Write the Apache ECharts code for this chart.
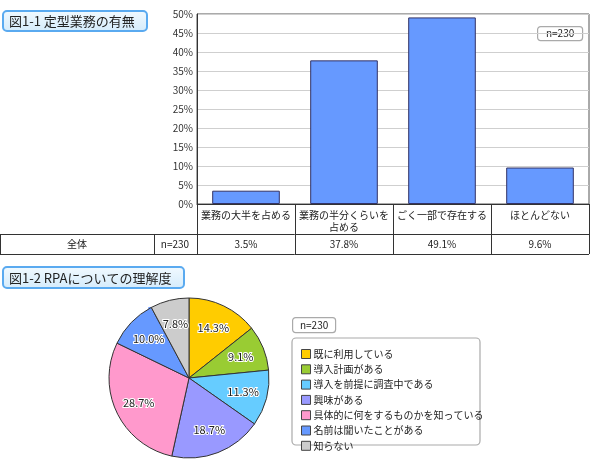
<!DOCTYPE html>
<html>
<head>
<meta charset="utf-8">
<script src="https://cdn.jsdelivr.net/npm/echarts@6/dist/echarts.min.js"></script>
<style>html,body{margin:0;padding:0;background:#fff}#c{width:590px;height:471px}</style>
</head>
<body>
<div id="c"></div>
<script>
// ---- data ----
var barCategories = ['業務の大半を占める', '業務の半分くらいを\n占める', 'ごく一部で存在する', 'ほとんどない'];
var barValues = [3.5, 37.8, 49.1, 9.6];
var yTicks = [0, 5, 10, 15, 20, 25, 30, 35, 40, 45, 50];
var pieCategories = ['既に利用している', '導入計画がある', '導入を前提に調査中である', '興味がある', '具体的に何をするものかを知っている', '名前は聞いたことがある', '知らない'];
var pieValues = [14.3, 9.1, 11.3, 18.7, 28.7, 10.0, 7.8];
var pieColors = ['#FFCC00', '#99CC33', '#66CCFF', '#9999FF', '#FF99CC', '#6699FF', '#CCCCCC'];
var sampleLabel = 'n=230';
var rowLabel = '全体';
var title1 = '図1-1 定型業務の有無';
var title2 = '図1-2 RPAについての理解度';

var FONT = '"Noto Sans CJK JP", sans-serif';
var chart = echarts.init(document.getElementById('c'));

function titleBox(x, y, w, h, text) {
  return {
    type: 'group', left: x, top: y,
    children: [
      { type: 'rect', shape: { x: 0, y: 0, width: w, height: h, r: 4 },
        style: { fill: new echarts.graphic.LinearGradient(0, 0, 0, 1, [{ offset: 0, color: '#f2faff' }, { offset: 1, color: '#d4ebfb' }]), stroke: '#5aaaf0', lineWidth: 2 } },
      { type: 'text', x: 6, y: h / 2 + 0.5, style: { text: text, font: '13px ' + FONT, fill: '#222', verticalAlign: 'middle' } }
    ]
  };
}
function nBox(x, y, w, h) {
  return {
    type: 'group', left: x, top: y,
    children: [
      { type: 'rect', shape: { x: 0, y: 0, width: w, height: h, r: 3 }, style: { fill: '#fff', stroke: '#aaa', lineWidth: 1.2 } },
      { type: 'text', x: w / 2, y: h / 2, style: { text: sampleLabel, font: '10px ' + FONT, fill: '#222', align: 'center', verticalAlign: 'middle' } }
    ]
  };
}
function hline(x1, x2, y) {
  return { type: 'line', shape: { x1: x1, y1: y, x2: x2, y2: y }, style: { stroke: '#333', lineWidth: 1 } };
}
function vline(x, y1, y2) {
  return { type: 'line', shape: { x1: x, y1: y1, x2: x, y2: y2 }, style: { stroke: '#333', lineWidth: 1 } };
}

var pieCx = 189, pieCy = 378, pieR = 80;

chart.setOption({
  animation: false,
  textStyle: { fontFamily: FONT },
  grid: { left: 197, top: 14, width: 392, height: 190, show: true, borderColor: '#555', borderWidth: 1, containLabel: false },
  xAxis: [{
    type: 'category', data: barCategories, gridIndex: 0,
    axisLine: { show: true, lineStyle: { color: '#333' } },
    axisTick: { show: true, length: 50, interval: 0, alignWithLabel: false, lineStyle: { color: '#333' } },
    axisLabel: { interval: 0, fontSize: 10, color: '#222', margin: 5, lineHeight: 12, verticalAlign: 'top' }
  }, {
    type: 'category', data: barValues.map(function (v) { return v.toFixed(1) + '%'; }), gridIndex: 0,
    position: 'bottom', offset: 30,
    axisLine: { show: false }, axisTick: { show: false },
    axisLabel: { interval: 0, fontSize: 10, color: '#222', margin: 5 }
  }],
  yAxis: {
    type: 'value', min: yTicks[0], max: yTicks[yTicks.length - 1], interval: 5,
    axisLine: { show: true, lineStyle: { color: '#333' } },
    axisTick: { show: false },
    axisLabel: { formatter: '{value}%', fontSize: 10, color: '#333', margin: 4 },
    splitLine: { lineStyle: { color: '#cfcfcf' } }
  },
  legend: {
    orient: 'vertical', left: 296, top: 344, itemWidth: 9, itemHeight: 9, itemGap: 5.3,
    icon: 'rect', data: pieCategories,
    textStyle: { fontSize: 10, color: '#222', padding: [0, 0, 0, -2] },
    itemStyle: { borderColor: '#444', borderWidth: 1 }
  },
  series: [{
    type: 'bar', xAxisIndex: 0, data: barValues, barWidth: '69%',
    itemStyle: { color: '#6699FF', borderColor: '#333366', borderWidth: 1 }
  }, {
    type: 'pie', center: [pieCx, pieCy], radius: pieR, startAngle: 90, clockwise: true,
    data: pieCategories.map(function (n, i) { return { name: n, value: pieValues[i], itemStyle: { color: pieColors[i] } }; }),
    itemStyle: { borderColor: '#333', borderWidth: 1 },
    label: { position: 'inside', formatter: function (p) { return p.value.toFixed(1) + '%'; },
      fontSize: 11, color: '#222', textBorderColor: '#fff', textBorderWidth: 2 },
    labelLayout: function (p) {
      var r = p.labelRect;
      var cx = r.x + r.width / 2, cy = r.y + r.height / 2;
      var k = 1.3;
      return { x: pieCx + (cx - pieCx) * k, y: pieCy + (cy - pieCy) * k, align: 'center', verticalAlign: 'middle' };
    },
    emphasis: { disabled: true }
  }],
  graphic: [
    titleBox(2, 10, 144, 20, title1),
    titleBox(2, 266, 181, 21, title2),
    nBox(537, 26, 45, 14),
    nBox(292, 317, 43, 15),
    { type: 'rect', shape: { x: 292, y: 338, width: 188, height: 107, r: 4 }, style: { fill: 'none', stroke: '#aaa', lineWidth: 1.2 }, z: -1 },
    hline(0, 589, 234.5),
    hline(0, 589, 254.5),
    vline(0.5, 234, 255),
    vline(154.5, 234, 255),
    { type: 'text', x: 77, y: 244.5, style: { text: rowLabel, font: '10px ' + FONT, fill: '#222', align: 'center', verticalAlign: 'middle' } },
    { type: 'text', x: 175, y: 244.5, style: { text: sampleLabel, font: '10px ' + FONT, fill: '#222', align: 'center', verticalAlign: 'middle' } }
  ]
});
</script>
</body>
</html>
